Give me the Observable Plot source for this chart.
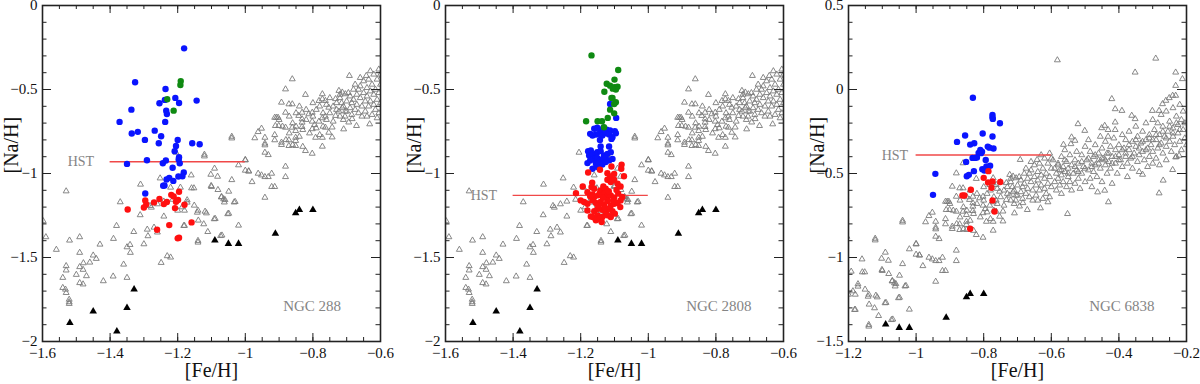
<!DOCTYPE html>
<html><head><meta charset="utf-8">
<script src="https://cdn.jsdelivr.net/npm/d3@7"></script>
<script src="https://cdn.jsdelivr.net/npm/@observablehq/plot@0.6"></script>
<style>
body{margin:0;background:#fff;}
#wrap{display:flex;width:1200px;height:384px;overflow:hidden;}
#wrap svg{display:block;flex:none;}
#wrap svg, #wrap svg text{font-family:"Liberation Serif","DejaVu Serif",serif !important;}
</style></head><body><div id="wrap"></div>
<script>
// ---- field stars ([Fe/H], [Na/H]) : open grey triangles ----
const fieldStars = [
[-1.598,-1.283],[-1.59,-1.378],[-1.559,-1.453],[-1.53,-1.105],[-1.52,-1.398],[-1.54,-1.62],[-1.53,-1.55],[-1.53,-1.576],
[-1.54,-1.68],[-1.532,-1.69],[-1.53,-1.71],[-1.521,-1.75],[-1.521,-1.765],[-1.521,-1.775],
[-1.5,-1.602],[-1.49,-1.378],[-1.49,-1.471],[-1.49,-1.556],[-1.48,-1.572],[-1.49,-1.651],[-1.48,-1.659],[-1.47,-1.61],
[-1.479,-1.533],[-1.46,-1.529],[-1.45,-1.487],[-1.441,-1.507],[-1.43,-1.422],[-1.42,-1.64],[-1.39,-1.388],[-1.391,-1.612],
[-1.381,-1.311],[-1.37,-1.17],[-1.36,-1.541],[-1.35,-1.438],[-1.341,-1.424],[-1.34,-1.471],[-1.35,-1.62],[-1.33,-1.347],
[-1.31,-1.065],[-1.311,-1.247],[-1.3,-1.42],[-1.29,-1.333],[-1.288,-1.372],[-1.282,-1.192],[-1.278,-1.202],[-1.27,-1.321],
[-1.26,-1.35],[-1.252,-1.028],[-1.26,-1.182],[-1.249,-1.531],[-1.241,-1.166],[-1.241,-1.255],[-1.231,-1.491],[-1.221,-1.499],
[-1.221,-1.083],[-1.205,-0.875],[-1.215,-1.155],[-1.192,-1.083],[-1.172,-1.158],[-1.172,-1.172],[-1.16,-1.01],[-1.159,-1.087],
[-1.152,-1.087],[-1.142,-1.232],[-1.115,-1.236],[-1.123,-1.301],[-1.1,-1.079],[-1.073,-1.371],[-1.07,-1.139],[-1.064,-1.152],
[-1.182,-1.311],[-1.187,-1.2],[-1.14,-1.22],[-1.139,-1.279],[-1.14,-1.4],[-1.14,-1.41],[-1.121,-0.887],[-1.121,-0.897],[-1.119,-1.226],
[-1.111,-1.347],[-1.102,-1.006],[-1.101,-1.073],[-1.091,-0.97],[-1.082,-1.018],[-1.081,-1.097],[-1.089,-1.269],[-1.071,-1.141],
[-1.069,-1.368],[-1.06,-1.157],[-1.049,-1.107],[-1.049,-1.238],[-1.04,-0.78],[-1.04,-0.79],[-1.04,-1.038],[-1.03,-1.168],
[-1.02,-1.309],[-1.02,-0.95],[-1.0,-0.921],[-1.0,-0.982],[-0.99,-0.986],[-0.98,-1.05],[-1.18,-1.22],[-1.2,-1.22],[-1.151,-1.19],
[-1.18,-1.31],[-1.092,-1.271],[-1.052,-1.241],[-1.062,-1.171],[-1.033,-1.171],[-1.0,-0.918],[-0.99,-0.987],
[-0.972,-0.789],[-0.962,-0.752],[-0.952,-0.732],[-0.962,-1.0],[-0.952,-1.01],[-0.942,-1.02],[-0.932,-1.02],[-0.922,-1.0],
[-0.942,-0.786],[-0.942,-0.821],[-0.942,-0.831],[-0.942,-0.875],[-0.932,-0.889],[-0.922,-1.079],[-0.913,-1.079],[-0.942,-1.143],
[-0.913,-0.667],[-0.908,-0.667],[-0.903,-0.667],[-0.911,-0.716],[-0.901,-0.716],[-0.913,-0.77],[-0.913,-0.801],[-0.893,-0.577],
[-0.893,-0.815],[-0.893,-0.829],[-0.881,-0.498],[-0.881,-0.637],[-0.881,-0.726],[-0.881,-0.958],[-0.881,-1.02],[-0.871,-0.587],
[-0.861,-0.587],[-0.861,-0.438],[-0.871,-0.801],[-0.871,-0.835],[-0.861,-0.726],[-0.851,-0.746],[-0.851,-0.786],[-0.851,-0.805],
[-0.851,-0.835],[-0.842,-0.656],[-0.832,-0.676],[-0.832,-0.637],[-0.832,-0.696],[-0.832,-0.722],[-0.822,-0.531],[-0.822,-0.865],
[-0.812,-0.646],[-0.802,-0.637],[-0.802,-0.69],[-0.802,-0.735],[-0.795,-0.71],[-0.802,-0.881],[-0.792,-0.786],[-0.782,-0.567],
[-0.772,-0.557],[-0.763,-0.567],[-0.772,-0.527],[-0.782,-0.69],[-0.772,-0.67],[-0.763,-0.66],[-0.772,-0.786],[-0.772,-0.839],
[-0.763,-0.726],[-0.753,-0.607],[-0.753,-0.756],[-0.743,-0.725],[-0.743,-0.784],[-0.733,-0.556],[-0.733,-0.656],[-0.723,-0.507],
[-0.713,-0.517],[-0.704,-0.527],[-0.723,-0.63],[-0.713,-0.61],[-0.704,-0.63],[-0.692,-0.418],[-0.642,-0.418],[-0.632,-0.706],
[-0.671,-0.716],[-0.709,-0.736],[-0.694,-0.695],[-0.684,-0.675],
[-0.90,-0.68],[-0.89,-0.72],[-0.88,-0.80],[-0.87,-0.66],[-0.87,-0.76],[-0.86,-0.70],[-0.86,-0.83],[-0.85,-0.64],[-0.85,-0.72],
[-0.84,-0.78],[-0.84,-0.60],[-0.83,-0.74],[-0.83,-0.84],[-0.82,-0.68],[-0.82,-0.62],[-0.81,-0.76],[-0.80,-0.58],[-0.80,-0.66],
[-0.79,-0.73],[-0.79,-0.62],[-0.78,-0.60],[-0.78,-0.77],[-0.77,-0.64],[-0.77,-0.72],[-0.76,-0.59],[-0.76,-0.68],[-0.75,-0.64],
[-0.75,-0.55],[-0.74,-0.60],[-0.74,-0.69],[-0.73,-0.58],[-0.73,-0.62],[-0.72,-0.66],[-0.72,-0.53],
[-0.72,-0.55],[-0.715,-0.58],[-0.71,-0.60],[-0.705,-0.66],[-0.70,-0.57],[-0.70,-0.63],[-0.695,-0.52],[-0.69,-0.54],[-0.69,-0.61],
[-0.685,-0.58],[-0.685,-0.65],[-0.68,-0.50],[-0.68,-0.56],[-0.675,-0.62],[-0.675,-0.47],[-0.67,-0.53],[-0.67,-0.59],[-0.665,-0.50],
[-0.665,-0.64],[-0.66,-0.55],[-0.66,-0.48],[-0.655,-0.60],[-0.655,-0.66],[-0.65,-0.45],[-0.65,-0.52],[-0.645,-0.57],[-0.645,-0.63],
[-0.64,-0.49],[-0.64,-0.54],[-0.635,-0.60],[-0.635,-0.44],[-0.63,-0.51],[-0.63,-0.57],[-0.625,-0.47],[-0.625,-0.65],[-0.62,-0.41],
[-0.62,-0.53],[-0.62,-0.59],[-0.615,-0.50],[-0.615,-0.62],[-0.61,-0.44],[-0.61,-0.56],[-0.605,-0.38],[-0.605,-0.52],[-0.605,-0.64],
[-0.60,-0.47],[-0.60,-0.58],[-0.60,-0.41],[-0.71,-0.68],[-0.66,-0.43],[-0.63,-0.39],[-0.64,-0.66],[-0.61,-0.67],
[-0.582,0.175],[-0.291,0.185],[-0.352,0.102],[-0.232,0.102],[-0.232,0.023],[-0.212,0.063],[-0.421,-0.056],[-0.411,-0.116],
[-0.391,-0.126],[-0.362,-0.155],[-0.352,-0.175],[-0.301,-0.126],[-0.281,-0.126],[-0.271,-0.086],[-0.261,-0.066],[-0.251,-0.05],
[-0.241,-0.036],[-0.232,-0.036],[-0.521,-0.205],[-0.501,-0.245],[-0.451,-0.229],[-0.442,-0.215],[-0.432,-0.24],[-0.432,-0.28],
[-0.411,-0.195],[-0.411,-0.24],[-0.54,-0.284],[-0.53,-0.304],[-0.542,-0.324],[-0.564,-0.328],[-0.552,-0.74],[-0.431,-0.67],
[-0.442,-0.601],[-0.463,-0.611],[-0.281,-0.617],[-0.269,-0.541],[-0.241,-0.478],[-0.33,-0.506],[-0.232,-0.403],[-0.222,-0.393],
[-0.595,-0.42],[-0.59,-0.47],[-0.59,-0.55],[-0.585,-0.50],[-0.585,-0.60],[-0.58,-0.44],[-0.58,-0.53],[-0.575,-0.48],[-0.575,-0.57],
[-0.57,-0.40],[-0.57,-0.51],[-0.57,-0.62],[-0.565,-0.46],[-0.565,-0.55],[-0.56,-0.36],[-0.56,-0.49],[-0.555,-0.43],[-0.555,-0.58],
[-0.55,-0.52],[-0.55,-0.47],[-0.545,-0.39],[-0.545,-0.55],[-0.54,-0.45],[-0.54,-0.60],[-0.535,-0.50],[-0.53,-0.42],[-0.53,-0.56],
[-0.525,-0.37],[-0.525,-0.48],[-0.52,-0.53],[-0.52,-0.44],[-0.515,-0.59],[-0.51,-0.39],[-0.51,-0.50],[-0.505,-0.46],[-0.50,-0.34],
[-0.50,-0.55],[-0.495,-0.42],[-0.49,-0.48],[-0.49,-0.30],[-0.485,-0.37],[-0.485,-0.53],[-0.48,-0.44],[-0.48,-0.58],[-0.475,-0.40],
[-0.475,-0.49],[-0.47,-0.33],[-0.47,-0.45],[-0.465,-0.52],[-0.46,-0.38],[-0.46,-0.42],[-0.455,-0.47],[-0.455,-0.28],[-0.45,-0.35],
[-0.45,-0.55],[-0.445,-0.41],[-0.44,-0.45],[-0.44,-0.31],[-0.435,-0.38],[-0.435,-0.50],[-0.43,-0.43],[-0.425,-0.34],[-0.425,-0.47],
[-0.42,-0.40],[-0.42,-0.56],[-0.415,-0.29],[-0.41,-0.36],[-0.41,-0.44],[-0.405,-0.50],[-0.40,-0.39],[-0.40,-0.33],
[-0.395,-0.42],[-0.39,-0.27],[-0.39,-0.46],[-0.385,-0.35],[-0.38,-0.30],[-0.38,-0.40],[-0.375,-0.44],[-0.375,-0.52],[-0.37,-0.25],
[-0.37,-0.36],[-0.365,-0.41],[-0.36,-0.31],[-0.36,-0.47],[-0.355,-0.38],[-0.35,-0.22],[-0.35,-0.34],[-0.345,-0.43],[-0.345,-0.28],
[-0.34,-0.39],[-0.34,-0.49],[-0.335,-0.32],[-0.33,-0.25],[-0.33,-0.37],[-0.325,-0.42],[-0.32,-0.20],[-0.32,-0.30],[-0.315,-0.35],
[-0.315,-0.46],[-0.31,-0.27],[-0.31,-0.40],[-0.305,-0.33],[-0.30,-0.18],[-0.30,-0.37],[-0.30,-0.44],
[-0.295,-0.24],[-0.29,-0.30],[-0.29,-0.41],[-0.285,-0.20],[-0.285,-0.35],[-0.28,-0.27],[-0.28,-0.45],[-0.275,-0.15],[-0.275,-0.32],
[-0.27,-0.38],[-0.27,-0.22],[-0.265,-0.28],[-0.26,-0.13],[-0.26,-0.34],[-0.26,-0.42],[-0.255,-0.25],[-0.25,-0.19],[-0.25,-0.31],
[-0.245,-0.37],[-0.24,-0.11],[-0.24,-0.23],[-0.24,-0.28],[-0.235,-0.33],[-0.23,-0.16],[-0.23,-0.40],[-0.225,-0.21],[-0.225,-0.26],
[-0.22,-0.09],[-0.22,-0.31],[-0.215,-0.18],[-0.215,-0.36],[-0.21,-0.24],[-0.21,-0.13],[-0.205,-0.29],[-0.205,-0.20],[-0.20,-0.33],
[-0.58,-0.45],[-0.56,-0.42],[-0.53,-0.46],[-0.51,-0.43],[-0.49,-0.41],[-0.47,-0.39],[-0.45,-0.41],[-0.43,-0.38],[-0.41,-0.40],
[-0.39,-0.36],[-0.37,-0.33],[-0.35,-0.30],[-0.33,-0.31],[-0.31,-0.29],[-0.29,-0.27],[-0.27,-0.25],[-0.25,-0.22],[-0.23,-0.20],
[-0.57,-0.48],[-0.55,-0.50],[-0.52,-0.49],[-0.50,-0.47],[-0.48,-0.46],[-0.46,-0.44],[-0.44,-0.42],[-0.42,-0.44],[-0.40,-0.42],
[-0.38,-0.38],[-0.36,-0.40],[-0.34,-0.35],[-0.32,-0.36],[-0.30,-0.30],[-0.28,-0.33],[-0.26,-0.29],[-0.24,-0.26],[-0.22,-0.24]
];

// metal-poor halo stars: filled black triangles
const haloStars = [
[-1.519,-1.889],[-1.45,-1.82],[-1.38,-1.939],[-1.35,-1.8],[-1.329,-1.689],[-1.09,-1.398],
[-1.05,-1.418],[-1.02,-1.418],[-0.911,-1.358],[-0.851,-1.236],[-0.84,-1.216],[-0.8,-1.216]
];

// ---- NGC 288 ----
const ngc288Blue = [
[-1.181,-0.255],[-1.326,-0.457],[-1.236,-0.497],[-1.207,-0.55],[-1.238,-0.562],[-1.196,-0.58],[-1.144,-0.566],[-1.254,-0.582],
[-1.337,-0.62],[-1.234,-0.626],[-1.232,-0.646],[-1.372,-0.693],[-1.237,-0.693],[-1.336,-0.762],[-1.318,-0.752],[-1.268,-0.745],
[-1.249,-0.778],[-1.297,-0.8],[-1.256,-0.82],[-1.2,-0.8],[-1.157,-0.82],[-1.135,-0.826],[-1.205,-0.836],[-1.209,-0.867],
[-1.196,-0.903],[-1.197,-0.917],[-1.235,-0.923],[-1.291,-0.921],[-1.35,-0.943],[-1.244,-0.939],[-1.194,-0.939],[-1.215,-0.966],
[-1.182,-0.994],[-1.186,-1.016],[-1.198,-1.018],[-1.225,-1.026],[-1.233,-1.036],[-1.213,-1.044],[-1.239,-1.071],[-1.243,-1.073],
[-1.296,-1.119]
];
const ngc288Green = [[-1.191,-0.45],[-1.192,-0.473],[-1.231,-0.558],[-1.212,-0.626]];
const ngc288Red = [
[-1.348,-1.214],[-1.296,-1.16],[-1.293,-1.184],[-1.3,-1.202],[-1.27,-1.172],[-1.254,-1.152],[-1.241,-1.182],[-1.232,-1.17],
[-1.219,-1.127],[-1.212,-1.137],[-1.196,-1.109],[-1.205,-1.168],[-1.199,-1.158],[-1.208,-1.206],[-1.18,-1.186],[-1.261,-1.335],
[-1.225,-1.307],[-1.159,-1.291],[-1.2,-1.386],[-1.196,-1.382]
];

// ---- NGC 2808 ----
const ngc2808Green = [
[-1.168,-0.297],[-1.089,-0.384],[-1.1,-0.441],[-1.123,-0.466],[-1.113,-0.477],[-1.101,-0.487],[-1.091,-0.483],[-1.13,-0.513],
[-1.106,-0.55],[-1.096,-0.576],[-1.101,-0.586],[-1.109,-0.55],[-1.113,-0.62],[-1.101,-0.642],[-1.12,-0.669],[-1.184,-0.689],
[-1.15,-0.689],[-1.137,-0.689],[-1.131,-0.725],[-1.096,-0.50],[-1.105,-0.495]
];
const ngc2808Blue = [
[-1.113,-0.586],[-1.095,-0.669],[-1.160,-0.734],[-1.151,-0.728],[-1.141,-0.744],[-1.133,-0.728],[-1.123,-0.740],[-1.113,-0.744],
[-1.099,-0.748],[-1.172,-0.764],[-1.165,-0.774],[-1.155,-0.768],[-1.146,-0.764],[-1.136,-0.774],[-1.126,-0.760],[-1.116,-0.768],
[-1.106,-0.784],[-1.096,-0.760],[-1.143,-0.800],[-1.109,-0.794],[-1.116,-0.839],[-1.141,-0.839],[-1.178,-0.867],[-1.170,-0.863],
[-1.175,-0.893],[-1.165,-0.887],[-1.155,-0.883],[-1.151,-0.873],[-1.141,-0.867],[-1.131,-0.893],[-1.121,-0.883],[-1.111,-0.873],
[-1.160,-0.913],[-1.151,-0.907],[-1.143,-0.922],[-1.136,-0.915],[-1.126,-0.907],[-1.116,-0.922],[-1.106,-0.913],[-1.172,-0.922],
[-1.155,-0.942],[-1.146,-0.938],[-1.136,-0.946],[-1.126,-0.932],[-1.18,-0.938],[-1.165,-0.972],[-1.151,-0.962]
];
const ngc2808Red = [
[-1.143,-0.978],[-1.109,-0.958],[-1.079,-0.947],[-1.121,-0.998],[-1.113,-1.018],[-1.101,-1.002],[-1.08,-0.972],[-1.072,-1.016],
[-1.121,-1.037],[-1.111,-1.051],[-1.101,-1.037],[-1.091,-1.061],[-1.082,-1.077],[-1.178,-0.994],[-1.166,-1.055],[-1.168,-1.081],
[-1.16,-1.091],[-1.133,-1.077],[-1.126,-1.091],[-1.141,-1.101],[-1.214,-1.117],[-1.194,-1.077],[-1.18,-1.111],[-1.165,-1.124],
[-1.16,-1.14],[-1.149,-1.13],[-1.143,-1.116],[-1.131,-1.12],[-1.121,-1.14],[-1.111,-1.13],[-1.101,-1.144],[-1.089,-1.12],
[-1.077,-1.14],[-1.082,-1.16],[-1.2,-1.16],[-1.19,-1.17],[-1.18,-1.18],[-1.165,-1.16],[-1.155,-1.176],[-1.141,-1.17],
[-1.131,-1.184],[-1.121,-1.164],[-1.111,-1.19],[-1.101,-1.18],[-1.091,-1.176],[-1.083,-1.2],[-1.18,-1.22],[-1.16,-1.224],
[-1.15,-1.21],[-1.136,-1.216],[-1.126,-1.23],[-1.116,-1.21],[-1.106,-1.224],[-1.099,-1.239],[-1.111,-1.259],[-1.121,-1.249],
[-1.136,-1.259],[-1.15,-1.249],[-1.17,-1.256],[-1.162,-1.26],[-1.155,-1.279],[-1.145,-1.269],[-1.138,-1.289],[-1.128,-1.205],
[-1.117,-1.106],[-1.094,-1.098],[-1.147,-1.192],[-1.172,-1.135],[-1.134,-1.145],[-1.104,-1.16]
];

// ---- NGC 6838 ----
const ngc6838Blue = [
[-0.832,-0.049],[-0.774,-0.151],[-0.774,-0.165],[-0.773,-0.175],[-0.752,-0.201],[-0.879,-0.312],[-0.855,-0.274],[-0.84,-0.328],
[-0.828,-0.32],[-0.803,-0.262],[-0.774,-0.28],[-0.81,-0.36],[-0.805,-0.37],[-0.788,-0.34],[-0.783,-0.346],[-0.771,-0.351],
[-0.815,-0.377],[-0.808,-0.379],[-0.833,-0.407],[-0.826,-0.407],[-0.82,-0.405],[-0.794,-0.419],[-0.852,-0.431],[-0.804,-0.474],
[-0.798,-0.482],[-0.792,-0.458],[-0.781,-0.454],[-0.829,-0.486],[-0.85,-0.516],[-0.844,-0.508],[-0.943,-0.502],[-0.95,-0.627]
];
const ngc6838Red = [
[-0.786,-0.486],[-0.8,-0.526],[-0.787,-0.553],[-0.774,-0.548],[-0.751,-0.551],[-0.777,-0.585],[-0.838,-0.597],
[-0.863,-0.631],[-0.857,-0.631],[-0.774,-0.66],[-0.768,-0.726],[-0.84,-0.829]
];

// axis tick values and labels
const xMajor12 = [-1.6,-1.4,-1.2,-1,-0.8,-0.6];
const yMajor12 = [-2,-1.5,-1,-0.5,0];
const xMajor3 = [-1.2,-1,-0.8,-0.6,-0.4,-0.2];
const yMajor3 = [-1.5,-1,-0.5,0,0.5];
const hstLevels = [-0.93, -1.13, -0.39];
const hstRanges = [[-1.4,-1.0],[-1.4,-1.0],[-1.0,-0.6]];
const clusterNames = ["NGC 288","NGC 2808","NGC 6838"];

const FONT = "Liberation Serif, DejaVu Serif, serif";
const fmt = d => d < 0 ? "\u2212" + String(Math.abs(d)) : String(d);
const toObj = a => a.map(([fe, na]) => ({fe, na}));
const minor = (lo, hi, step) => d3.range(Math.round((hi - lo) / step) + 1).map(i => +(lo + i * step).toFixed(3));

function panel({xDomain, yDomain, xMajor, yMajor, blue, red, green, hst, hstRange, name, nameAt, ml, mr, hstDx}) {
  const W = 400, H = 384, mt = 5, mb = 43;
  const fw = W - ml - mr, fh = H - mt - mb;
  const xMinor = minor(xDomain[0], xDomain[1], 0.05);
  const yMinor = minor(yDomain[0], yDomain[1], 0.1);
  const tk = {stroke: "#222", strokeWidth: 1};
  return Plot.plot({
    width: W, height: H, marginLeft: ml, marginRight: mr, marginTop: mt, marginBottom: mb,
    style: {fontFamily: FONT, fontSize: "15px", background: "white", color: "#111"},
    x: {domain: xDomain, axis: null},
    y: {domain: yDomain, axis: null},
    marks: [
      Plot.dot(toObj(fieldStars), {x: "fe", y: "na", symbol: "triangle", r: 2.2, stroke: "#7a7a7a", strokeWidth: 0.9, fill: "none", clip: true}),
      Plot.dot(toObj(haloStars), {x: "fe", y: "na", symbol: "triangle", r: 2.8, fill: "black", stroke: "none", clip: true}),
      Plot.ruleY([hst], {y: d => d, x1: hstRange[0], x2: hstRange[1], stroke: "#f04848", strokeWidth: 1.4}),
      Plot.text(["HST"], {x: hstRange[0], y: hst, text: d => d, textAnchor: "end", dx: hstDx, fill: "#858585", fontSize: 14}),
      Plot.dot(toObj(blue), {x: "fe", y: "na", r: 3.2, fill: "#0a14ff", stroke: "none"}),
      Plot.dot(toObj(green), {x: "fe", y: "na", r: 3.2, fill: "#0f8a12", stroke: "none"}),
      Plot.dot(toObj(red), {x: "fe", y: "na", r: 3.2, fill: "#ff1010", stroke: "none"}),
      Plot.text([name], {x: nameAt[0], y: nameAt[1], text: d => d, textAnchor: "start", fill: "#858585", fontSize: 15}),
      // inward ticks on all four sides
      Plot.tickX(xMinor, {x: d => d, insetBottom: fh - 4, ...tk}),
      Plot.tickX(xMinor, {x: d => d, insetTop: fh - 4, ...tk}),
      Plot.tickX(xMajor, {x: d => d, insetBottom: fh - 8, ...tk}),
      Plot.tickX(xMajor, {x: d => d, insetTop: fh - 8, ...tk}),
      Plot.tickY(yMinor, {y: d => d, insetRight: fw - 4.5, ...tk}),
      Plot.tickY(yMinor, {y: d => d, insetLeft: fw - 4.5, ...tk}),
      Plot.tickY(yMajor, {y: d => d, insetRight: fw - 9, ...tk}),
      Plot.tickY(yMajor, {y: d => d, insetLeft: fw - 9, ...tk}),
      Plot.frame({stroke: "#222", strokeWidth: 1.6}),
      Plot.axisX(xMajor, {anchor: "bottom", tickSize: 0, tickPadding: 6, tickFormat: fmt, label: null, fill: "#111", fontSize: 15}),
      Plot.axisY(yMajor, {anchor: "left", tickSize: 0, tickPadding: 5, tickFormat: fmt, label: null, fill: "#111", fontSize: 15}),
      Plot.text(["[Fe/H]"], {frameAnchor: "bottom", text: d => d, dy: 35, fontSize: 20, fill: "#111"}),
      Plot.text(["[Na/H]"], {frameAnchor: "left", text: d => d, rotate: -90, dx: -31, fontSize: 20, fill: "#111"})
    ]
  });
}

const wrap = document.getElementById("wrap");
wrap.append(panel({
  xDomain: [-1.6, -0.6], yDomain: [-2, 0], xMajor: xMajor12, yMajor: yMajor12,
  blue: ngc288Blue, red: ngc288Red, green: ngc288Green,
  hst: hstLevels[0], hstRange: hstRanges[0], hstDx: -16,
  name: clusterNames[0], nameAt: [-0.888, -1.79], ml: 42, mr: 20
}));
wrap.append(panel({
  xDomain: [-1.6, -0.6], yDomain: [-2, 0], xMajor: xMajor12, yMajor: yMajor12,
  blue: ngc2808Blue, red: ngc2808Red, green: ngc2808Green,
  hst: hstLevels[1], hstRange: hstRanges[1], hstDx: -16,
  name: clusterNames[1], nameAt: [-0.888, -1.79], ml: 45, mr: 17
}));
wrap.append(panel({
  xDomain: [-1.2, -0.2], yDomain: [-1.5, 0.5], xMajor: xMajor3, yMajor: yMajor3,
  blue: ngc6838Blue, red: ngc6838Red, green: [],
  hst: hstLevels[2], hstRange: hstRanges[2], hstDx: -8,
  name: clusterNames[2], nameAt: [-0.488, -1.29], ml: 48, mr: 14
}));
</script></body></html>
